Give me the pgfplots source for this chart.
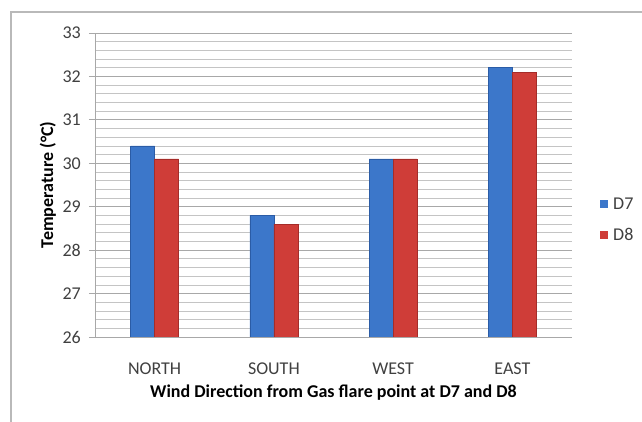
\documentclass[border=0pt]{standalone}
\usepackage{pgfplots}
\pgfplotsset{compat=1.18}
\usepackage{fontspec}
\setmainfont{Carlito}
\definecolor{barblue}{HTML}{3C77CA}
\definecolor{barbluedark}{HTML}{2B5CA6}
\definecolor{barred}{HTML}{CF3D38}
\definecolor{barreddark}{HTML}{A52C29}
\definecolor{gridmajor}{HTML}{A8A8A8}
\definecolor{gridminor}{HTML}{C4C4C4}
\definecolor{labelgray}{HTML}{404040}
\begin{document}
\begin{tikzpicture}
\useasboundingbox (-95pt,-85pt) rectangle (547pt,337pt);
\begin{axis}[
  at={(0,0)}, anchor=south west,
  scale only axis, width=477pt, height=304pt,
  ybar=0pt, bar width=24pt,
  xmin=-0.5, xmax=3.5, ymin=26, ymax=33,
  xtick={0,1,2,3},
  xticklabels={NORTH,SOUTH,WEST,EAST},
  ytick={26,...,33},
  minor y tick num=4,
  ymajorgrids, yminorgrids,
  major grid style={gridmajor, line width=0.8pt},
  minor grid style={gridminor, line width=0.7pt},
  axis x line*=bottom, axis y line*=left,
  axis line style={gridmajor, line width=0.8pt},
  x axis line style={-}, y axis line style={-},
  major x tick style={draw=none},
  minor y tick style={draw=none},
  major y tick style={gridmajor, line width=0.8pt},
  tick align=outside, major tick length=6pt,
  /pgf/number format/assume math mode=true,
  tick label style={font=\fontsize{18}{21}\selectfont, text=labelgray},
  yticklabel style={anchor=east, inner sep=0pt, xshift=-8pt},
  xticklabel style={anchor=base, inner sep=0pt, yshift=-32pt},
  xlabel={\textbf{Wind Direction from Gas flare point at D7 and D8}},
  ylabel={\textbf{Temperature (\textdegree C)}},
  label style={font=\fontsize{18}{21}\selectfont, text=black},
  xlabel style={at={(axis description cs:0.5,0)}, anchor=base, yshift=-60pt, inner sep=0pt},
  ylabel style={at={(axis description cs:-0.088,0.5)}, anchor=base, rotate=0, inner sep=0pt},
  legend style={at={(axis description cs:1.0587,0.385)}, anchor=west, draw=none,
    inner sep=0pt, font=\fontsize{18}{21}\selectfont, text=labelgray, row sep=14pt,
    legend cell align=left, nodes={inner xsep=5pt}},
  legend image code/.code={\draw[#1, draw=none] (0pt,-4pt) rectangle (8pt,4pt);},
]
\addplot[fill=barblue, draw=barbluedark, line width=0.6pt]
  coordinates {(0,30.4) (1,28.8) (2,30.1) (3,32.2)};
\addplot[fill=barred, draw=barreddark, line width=0.6pt]
  coordinates {(0,30.1) (1,28.6) (2,30.1) (3,32.1)};
\legend{D7,D8}
\end{axis}
\draw[gray!55, line width=1.2pt] (-84pt,-85pt) -- (-84pt,325pt) -- (547pt,325pt);
\end{tikzpicture}
\end{document}
